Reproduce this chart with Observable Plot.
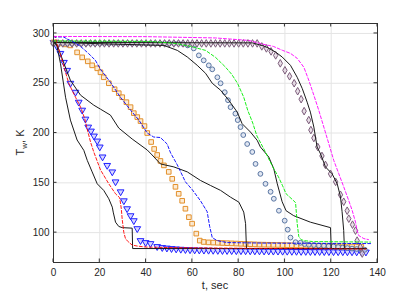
<!DOCTYPE html>
<html><head><meta charset="utf-8">
<script src="https://cdn.jsdelivr.net/npm/d3@7"></script>
<script src="https://cdn.jsdelivr.net/npm/@observablehq/plot@0.6"></script>
<style>body{margin:0;background:#fff}#chart{position:absolute;left:0;top:0}</style>
</head><body><div id="chart"></div>
<script>
const xTicks = [0,20,40,60,80,100,120,140];
const yTicks = [100,150,200,250,300];
const xDomain = [0,140];
const yDomain = [70,310];

// dashed model curves [t, T]
const redDash = [[0,297],[0.8,297],[1.6,289],[3.0,279],[4.8,264],[6.6,250],[8.0,243],[9.5,236],[11.7,226],[13.4,215],[15.0,200],[16.0,191],[17.4,181],[20.3,163],[23.9,149],[26.8,139],[28.6,135],[29.3,124],[29.7,113],[30.4,100],[31.1,94],[32.2,91],[34.0,87.5],[36.2,86.5],[40,85.5],[50,85],[70,84.5],[100,84],[135,83.5]];
const blueDash = [[0,296.5],[4.3,296.5],[8.8,291],[11.7,287],[15.1,280],[18.1,273],[20.3,264],[24.6,251],[28.9,236],[33.3,223],[36.9,213],[40.5,200],[43.3,196],[46.2,195.5],[49.1,189],[50.6,180],[53.5,168],[57.0,151],[60.0,143],[63.5,132],[66.4,121],[67.5,106],[68.6,95],[70.7,92],[75,90],[90,89.5],[137,89]];
const greenDash = [[0,292.5],[42,292],[52.7,290],[59.2,287],[65.7,283],[70,276],[74,267],[77,259],[79.5,250],[82.2,236],[83.9,223],[86.1,210],[87.9,197],[90.9,184],[93,174],[95.2,164],[97.2,156],[99,147],[100.5,139],[103.8,132],[104.6,130],[105.3,109],[106,96],[107,93],[108.2,92],[112,91],[137,90.5]];
const magentaDash = [[0,297],[40,296.8],[70,295.5],[84.4,293],[90,289.5],[95,287],[99,283],[102.4,280],[105.3,275],[108.2,266],[110.3,253],[112.5,238],[114.6,223],[116.8,206],[119.0,189],[121.1,172.5],[123.3,159],[125.4,146],[127.6,132],[129.1,122],[130.5,110.5],[131.2,102],[131.9,97],[134.1,94],[136.1,93]];

// black solid curves
const black1 = [[0,291],[1.3,289.6],[3.0,270],[5.2,236],[7.3,213],[10.2,193],[13.1,182.6],[14.6,172.5],[16.7,161],[18.9,149],[21.7,142.4],[23.9,134],[25.4,125.6],[25.8,120.6],[26.8,110.5],[28.2,106.2],[29.7,105],[34.0,104.5],[34.2,84],[135,84]];
const black2 = [[0,291],[1.6,288],[4.5,270],[7.3,253],[11.7,238],[17.4,228],[20.3,224],[24.6,218],[28.2,205],[34,194],[40.5,183],[42.6,178],[46.2,169],[52.0,166],[57.8,161],[63.5,152.4],[67.8,147.4],[72.2,142.4],[76.5,135.6],[80.1,130.6],[82.2,120.6],[83.0,109],[83.3,89],[83.4,84],[135,84]];
const black3 = [[0,291],[39,288.5],[47.7,288],[53.5,283],[57.8,276.4],[62.1,268],[65.7,260],[68.6,250],[72.2,243],[75.7,233],[79.4,221],[81.5,209.4],[85.1,201],[88,192.7],[89.4,186],[93,176],[95.2,164],[96.7,149],[98.8,131],[100.5,122],[103.8,117],[111,110.5],[119.7,105],[120.0,84],[135,84]];
const black4 = [[0,291],[86,290.5],[90.7,287.5],[92.3,286],[95.9,281.4],[98.8,276.4],[102.4,268],[105.3,256],[107.5,244.6],[109.6,231],[111.0,221],[112.5,206],[113.2,196],[113.9,186],[115.4,179],[117.5,166],[120.4,159],[122.6,149],[124.0,136],[124.7,121],[125.4,102],[125.7,84],[135,84]];

// marker series
const triangles = [[0,291],[1.5,287],[3.0,280],[4.5,271],[5.9,263],[7.3,250],[9.5,241],[10.9,231],[12.4,223],[13.8,214],[15.0,206],[16.2,202],[17.5,197],[18.9,192],[20.0,186],[21.2,176],[23.2,167.5],[25.4,161],[26.8,151],[29.0,141],[30.4,132],[31.8,124],[33.3,117],[34.7,112],[36.2,104],[37.6,92],[39.8,90],[41.9,89],[44.8,86],[47,85],[49,84.5],[51,84],[53,83.6],[55,83.3],[57,83],[59,82.8],[61,82.6],[63,82.5],[65,82.4],[67,82.3],[69,82.2],[71,82.1],[73,82],[75,82],[77,81.9],[79,81.8],[81,81.8],[83,81.7],[85,81.7],[87,81.6],[89,81.6],[91,81.5],[93,81.5],[95,81.4],[97,81.4],[99,81.3],[101,81.3],[103,81.2],[105,81.2],[107,81.1],[109,81.1],[111,81],[113,81],[115,81],[117,80.9],[119,80.9],[121,80.8],[123,80.8],[125,80.8],[127,80.7],[129,80.7],[131,80.6],[133,80.6],[135,80.5]];
const squares = [[0,291],[3,290],[5.2,289],[7.3,288],[10.2,281],[12.4,276],[14.8,272],[16.7,268],[18.9,265],[20.3,261],[21.7,256],[23.9,250],[26.4,244],[28.2,240],[29.7,236],[31.5,231],[33.3,226],[34.7,220],[36.2,216],[37.6,212],[39.3,207],[40.5,200],[42.2,191],[43.5,184],[44.8,178],[46.2,172],[47.7,167.5],[49.8,161],[51.3,154],[52.7,146],[54.1,139],[55.6,132],[57,124],[58.5,115.5],[59.9,109],[61.7,99],[63.2,92],[64.9,90.6],[67,90.2],[69,90],[71,89.8],[73,89.6],[75,89.4],[77,89.2],[79,89],[81,88.8],[83,88.6],[85,88.4],[87,88.2],[89,88],[91,87.9],[93,87.8],[95,87.7],[97,87.6],[99,87.5],[101,87.4],[103,87.3],[105,87.2],[107,87.1],[109,87],[111,86.9],[113,86.8],[115,86.7],[117,86.6],[119,86.5],[121,86.4],[123,86.3],[125,86.2],[127,86.1],[129,86],[131,86],[133,85.9]];
const circles = [[0,290],[2,290],[4,290],[6,290],[8,290],[10,290],[12,290],[14,290],[16,290],[18,290],[20,290],[22,290],[24,290],[26,290],[28,290],[30,290],[32,290],[34,290],[36,290],[38,290],[40,290],[42,290],[44,290],[46,290],[48,290],[50,290],[52,290],[54,290],[56,289.5],[58,288],[60.6,285],[62.8,278],[64.9,273],[67.1,268],[68.6,264],[70.8,256],[72.2,250],[74,241],[75.4,233],[76.5,226],[78.6,219.5],[79.6,213],[80.8,206],[82,198],[83.7,189],[85.9,181],[87.3,169],[89.4,159],[91.6,149],[93.8,141],[95.2,134],[97.4,122],[99.9,112],[101.2,103],[102.4,95],[104.6,90.4],[106.7,89.8],[108.5,88.5],[110.3,87.8],[112.5,87.5],[114.6,87.1],[116.8,86.8],[118.9,86.4],[121,86],[123,85.5],[125,85],[127,84.5],[129,84],[131,83.5],[133,83],[134.5,82.8]];
const diamonds = [[0,290],[2,290],[4,290],[6,290],[8,290],[10,290],[12,290],[14,290],[16,290],[18,290],[20,290],[22,290],[24,290],[26,290],[28,290],[30,290],[32,290],[34,290],[36,290],[38,290],[40,290],[42,290],[44,290],[46,290],[48,290],[50,290],[52,290],[54,290],[56,290],[58,290],[60,290],[62,290],[64,290],[66,290],[68,290],[70,290],[72,290],[74,290],[76,290],[78,290],[80,290],[82,290],[84,290],[86,290],[88,290],[90,287],[92,285],[94,282],[96,278],[98,270],[100,263],[102,257],[104,250],[105.5,242],[107,234],[108.3,222],[110.3,213],[111.2,203],[112.5,195],[114.2,186],[116,177],[117.5,168],[119.7,159],[121.9,151],[124,138],[125.4,131],[126.9,122],[127.6,114],[129.2,108],[130.5,102],[131.2,92],[132.6,85.5],[133.4,79]];

const rows = pairs => pairs.map(([t, y]) => ({t, y}));
const dash = "3,2";
const dashLine = (d, c) => Plot.line(rows(d), {x: "t", y: "y", stroke: c, strokeWidth: 0.9, strokeDasharray: dash});
const solidLine = d => Plot.line(rows(d), {x: "t", y: "y", stroke: "#1a1a1a", strokeWidth: 1});

const chart = Plot.plot({
  width: 409, height: 307,
  marginLeft: 53, marginRight: 32, marginTop: 23, marginBottom: 45,
  style: {fontFamily: "'Liberation Sans', Arial, sans-serif", fontSize: "10px", background: "#fff", color: "#262626"},
  x: {domain: xDomain, label: null},
  y: {domain: yDomain, label: null},
  marks: [
    Plot.gridX(xTicks, {stroke: "#e4e4e4", strokeOpacity: 1}),
    Plot.gridY(yTicks, {stroke: "#e4e4e4", strokeOpacity: 1}),
    Plot.dot(rows(triangles), {x: "t", y: "y", symbol: "triangle", rotate: 180, r: 2.5, stroke: "#2020ff", fill: "#c4c4ff", fillOpacity: 0.7, strokeWidth: 1}),
    Plot.dot(rows(squares), {x: "t", y: "y", symbol: "square", r: 2.6, stroke: "#e2902c", fill: "#fbe2c2", fillOpacity: 0.7, strokeWidth: 1}),
    Plot.dot(rows(circles), {x: "t", y: "y", symbol: "circle", r: 2.4, stroke: "#5a76a2", fill: "#d3dcec", fillOpacity: 0.7, strokeWidth: 1}),
    Plot.dot(rows(diamonds), {x: "t", y: "y", symbol: "diamond", r: 2.3, stroke: "#7c5c7a", fill: "#ddd0db", fillOpacity: 0.7, strokeWidth: 1}),
    solidLine(black1), solidLine(black2), solidLine(black3), solidLine(black4),
    dashLine(redDash, "#ff0000"),
    dashLine(blueDash, "#0000ff"),
    dashLine(greenDash, "#00ee00"),
    dashLine(magentaDash, "#ff00ff"),
    Plot.frame({stroke: "#333", strokeWidth: 1}),
    Plot.axisX(xTicks, {tickSize: 0, tickPadding: 6}),
    Plot.axisY(yTicks, {tickSize: 0, tickPadding: 4})
  ]
});
document.getElementById("chart").appendChild(chart);

// inward ticks on all four sides (MATLAB box style), using Plot's scales
const sx = chart.scale("x"), sy = chart.scale("y");
const X0 = sx.apply(xDomain[0]), X1 = sx.apply(xDomain[1]);
const Y0 = sy.apply(yDomain[0]), Y1 = sy.apply(yDomain[1]);
const svg = d3.select(chart);
const tg = svg.append("g").attr("stroke", "#333").attr("stroke-width", 1);
const L = 3.5;
xTicks.forEach(v => {
  const p = sx.apply(v);
  tg.append("line").attr("x1", p).attr("x2", p).attr("y1", Y0).attr("y2", Y0 - L);
  tg.append("line").attr("x1", p).attr("x2", p).attr("y1", Y1).attr("y2", Y1 + L);
});
yTicks.forEach(v => {
  const p = sy.apply(v);
  tg.append("line").attr("y1", p).attr("y2", p).attr("x1", X0).attr("x2", X0 + L);
  tg.append("line").attr("y1", p).attr("y2", p).attr("x1", X1).attr("x2", X1 - L);
});

// axis titles
svg.append("text").attr("x", (X0 + X1) / 2).attr("y", 289).attr("text-anchor", "middle")
  .attr("font-size", 11).attr("fill", "#262626").attr("font-family", "'Liberation Sans', Arial, sans-serif").text("t, sec");
const yl = svg.append("text").attr("transform", `translate(24,${(Y0 + Y1) / 2}) rotate(-90)`)
  .attr("text-anchor", "middle").attr("font-size", 11).attr("fill", "#262626")
  .attr("font-family", "'Liberation Sans', Arial, sans-serif");
yl.append("tspan").text("T");
yl.append("tspan").attr("font-size", 8).attr("dy", 3).text("w");
yl.append("tspan").attr("dy", -3).text(", K");
</script>
</body></html>
